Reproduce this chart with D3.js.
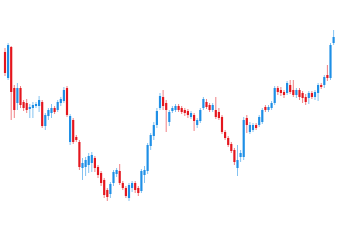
<!DOCTYPE html>
<html>
<head>
<meta charset="utf-8">
<script src="https://cdn.jsdelivr.net/npm/d3@7"></script>
<style>
  html, body { margin: 0; padding: 0; background: #fff; }
</style>
</head>
<body>
<svg id="chart"></svg>
<script>
// candle values, one entry per session
const open = [188, 162, 193, 152, 137, 152, 138, 137, 131, 132, 134, 134, 138, 114, 124, 127, 132, 130, 137, 139,
  152, 98, 120, 103, 98, 72, 73, 75, 77, 82, 73, 67, 60, 50, 46, 57, 66, 69, 57, 52,
  42, 52, 57, 52, 49, 65, 69, 94, 104, 115, 132, 143, 137, 118, 129, 130, 134, 132, 130, 129,
  123, 125, 115, 119, 132, 138, 135, 130, 130, 128, 123, 108, 102, 96, 90, 72, 83, 83, 122, 108,
  110, 115, 115, 118, 133, 130, 132, 137, 152, 150, 148, 147, 155, 150, 145, 150, 147, 143, 142, 147,
  143, 147, 155, 155, 165, 162, 197];
const close = [167, 195, 148, 130, 152, 135, 132, 130, 133, 135, 136, 140, 114, 125, 130, 132, 128, 138, 141, 150,
  125, 124, 98, 100, 73, 77, 80, 84, 85, 72, 65, 57, 45, 43, 56, 68, 70, 57, 52, 44,
  55, 57, 50, 47, 69, 70, 95, 105, 115, 129, 144, 134, 130, 128, 132, 134, 130, 128, 127, 125,
  127, 119, 120, 130, 141, 133, 130, 135, 123, 122, 108, 102, 95, 89, 78, 80, 87, 120, 115, 115,
  115, 112, 123, 130, 130, 133, 137, 152, 148, 147, 145, 157, 148, 145, 150, 143, 142, 138, 147, 143,
  148, 155, 153, 163, 162, 195, 203];
const high = [192, 197, 194, 155, 157, 154, 140, 141, 136, 138, 138, 144, 140, 127, 132, 136, 134, 140, 143, 153,
  154, 126, 122, 105, 100, 82, 83, 87, 88, 84, 75, 69, 62, 52, 58, 70, 72, 76, 59, 54,
  57, 59, 59, 54, 71, 74, 97, 107, 118, 132, 147, 150, 140, 130, 134, 136, 136, 134, 132, 131,
  129, 127, 122, 132, 143, 141, 137, 137, 143, 132, 125, 110, 104, 98, 92, 95, 90, 123, 125, 118,
  117, 117, 125, 132, 135, 135, 139, 154, 154, 153, 150, 159, 160, 160, 152, 152, 149, 146, 149, 149,
  150, 157, 157, 165, 175, 197, 210];
const low = [164, 160, 120, 122, 130, 132, 129, 127, 122, 122, 132, 128, 112, 110, 120, 122, 126, 128, 134, 137,
  123, 95, 96, 98, 70, 60, 64, 67, 68, 68, 62, 54, 42, 39, 42, 54, 63, 55, 50, 42,
  39, 48, 47, 44, 47, 57, 66, 90, 100, 112, 130, 130, 108, 114, 127, 128, 128, 126, 124, 122,
  121, 109, 112, 117, 130, 131, 128, 128, 121, 120, 106, 100, 93, 87, 75, 64, 78, 80, 107, 106,
  108, 110, 113, 116, 128, 128, 130, 135, 145, 144, 142, 145, 146, 143, 142, 140, 137, 135, 136, 141,
  140, 139, 151, 152, 159, 160, 195];

const width = 339;
const height = 240;

const svg = d3.select('#chart')
  .attr('width', width)
  .attr('height', height);

// Set the scales
const x = d3.scaleBand()
  .domain(d3.range(open.length))
  .range([3.45, 335.15])
  .paddingInner(0.3)
  .paddingOuter(0.15);

const y = d3.scaleLinear()
  .domain([40, 210])
  .range([200, 30]);

const upColor = '#1e8fe6';
const downColor = '#e4161e';
const color = i => close[i] >= open[i] ? upColor : downColor;

const idx = d3.range(open.length);

// Wicks
svg.append('g')
  .selectAll('line')
  .data(idx)
  .enter().append('line')
  .attr('x1', i => x(i) + x.bandwidth() / 2)
  .attr('x2', i => x(i) + x.bandwidth() / 2)
  .attr('y1', i => y(high[i]))
  .attr('y2', i => y(low[i]))
  .attr('stroke', color)
  .attr('stroke-opacity', 0.55)
  .attr('stroke-width', 1);

// Bodies
svg.append('g')
  .selectAll('rect')
  .data(idx)
  .enter().append('rect')
  .attr('x', i => x(i))
  .attr('y', i => y(Math.max(open[i], close[i])))
  .attr('width', x.bandwidth())
  .attr('height', i => Math.max(1, Math.abs(y(open[i]) - y(close[i]))))
  .attr('fill', color);
</script>
</body>
</html>
